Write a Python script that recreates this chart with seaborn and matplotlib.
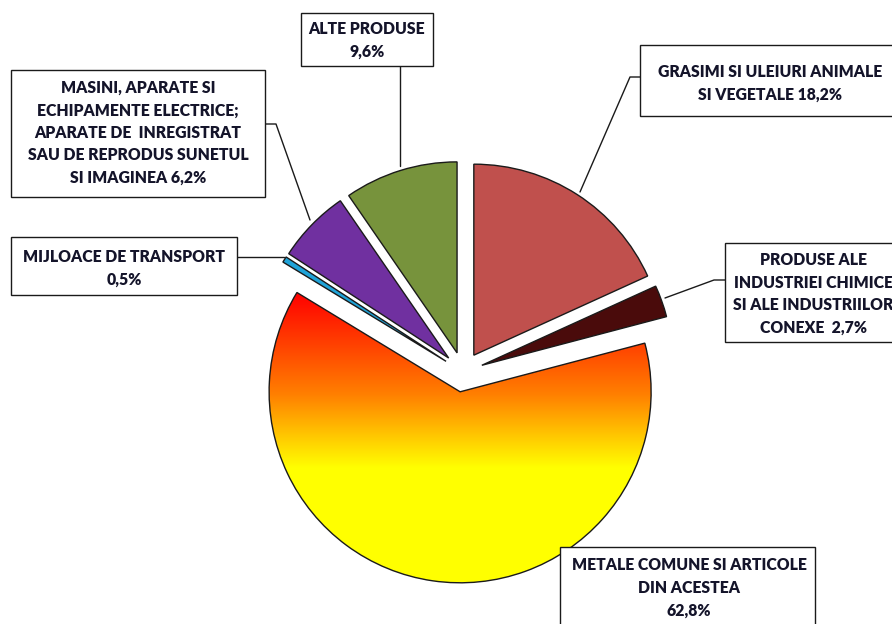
import numpy as np
import matplotlib
matplotlib.use("Agg")
import matplotlib.pyplot as plt
from matplotlib.patches import Rectangle
from matplotlib.colors import LinearSegmentedColormap
import seaborn as sns

# data (clockwise from 12 o'clock)
categories = [
    "GRASIMI SI ULEIURI ANIMALE\nSI VEGETALE 18,2%",
    "PRODUSE ALE\nINDUSTRIEI CHIMICE\nSI ALE INDUSTRIILOR\nCONEXE  2,7%",
    "METALE COMUNE SI ARTICOLE\nDIN ACESTEA\n62,8%",
    "MIJLOACE DE TRANSPORT\n0,5%",
    "MASINI, APARATE SI\nECHIPAMENTE ELECTRICE;\nAPARATE DE  INREGISTRAT\nSAU DE REPRODUS SUNETUL\nSI IMAGINEA 6,2%",
    "ALTE PRODUSE\n9,6%",
]
shares = [18.2, 2.7, 62.8, 0.5, 6.2, 9.6]
colors = ["#C0504D", "#4A0B0B", "#FF8000", "#1FA3D8", "#7030A0", "#77933C"]

W, H = 892, 624

sns.set_theme(style="white")
plt.rcParams["font.family"] = ["Lato", "DejaVu Sans"]

fig = plt.figure(figsize=(W / 100, H / 100), dpi=100)
ax = fig.add_axes([0, 0, 1, 1])

def py(y):
    # pixel row -> data y
    return H - y

wedges, _ = ax.pie(shares, colors=colors, startangle=90, counterclock=False,
                   center=(463, py(372)), radius=191, explode=[20] * len(shares),
                   wedgeprops=dict(edgecolor="#1a1a1a", linewidth=1.0))

# gradient fill for the big slice
big = wedges[2]
verts = big.get_path().vertices
x0, x1 = verts[:, 0].min(), verts[:, 0].max()
y0, y1 = verts[:, 1].min(), verts[:, 1].max()
cmap = LinearSegmentedColormap.from_list(
    "metal", [(0, "#FF0000"), (0.35, "#FF8000"), (0.6, "#FFFF00"), (1, "#FFFF00")])
grad = np.linspace(0, 1, 256).reshape(-1, 1)
img = ax.imshow(grad, cmap=cmap, extent=(x0, x1, y0, y1), origin="upper",
                aspect="auto", zorder=big.get_zorder() + 0.1)
img.set_clip_path(big)
big.set_facecolor("none")
big.set_zorder(img.get_zorder() + 0.1)

# label boxes: (left, top, right, bottom) in pixels, text centre (x, y), leader polyline
layout = [
    ((640, 45, 900, 116), (770, 83), [(640, 77), (630, 77), (580, 192)]),
    ((725, 243, 900, 342), (813, 294), [(725, 280), (714, 280), (665, 298)]),
    ((560, 547, 815, 640), (689, 588), []),
    ((11, 237, 237, 295), (124, 268), [(237, 257), (284, 257)]),
    ((11, 70, 265, 197), (138, 133), [(265, 124), (276, 124), (310, 220)]),
    ((301, 13, 433, 66), (367, 40), [(400, 66), (400, 166)]),
]

for label, ((l, t, r, b), (cx, cy), leader) in zip(categories, layout):
    ax.add_patch(Rectangle((l, py(b)), r - l, b - t, facecolor="white",
                           edgecolor="#1a1a1a", linewidth=1.0, zorder=5))
    ax.text(cx, py(cy), label, ha="center", va="center",
            fontsize=11.3, fontweight="heavy", color="#14142a", linespacing=1.5,
            zorder=6)
    if leader:
        xs = [p[0] for p in leader]
        ys = [py(p[1]) for p in leader]
        ax.plot(xs, ys, color="#1a1a1a", linewidth=1.0, zorder=4)

ax.set_xlim(0, W)
ax.set_ylim(0, H)
ax.set_aspect("auto")
ax.axis("off")

fig.savefig("out.png", dpi=100)
